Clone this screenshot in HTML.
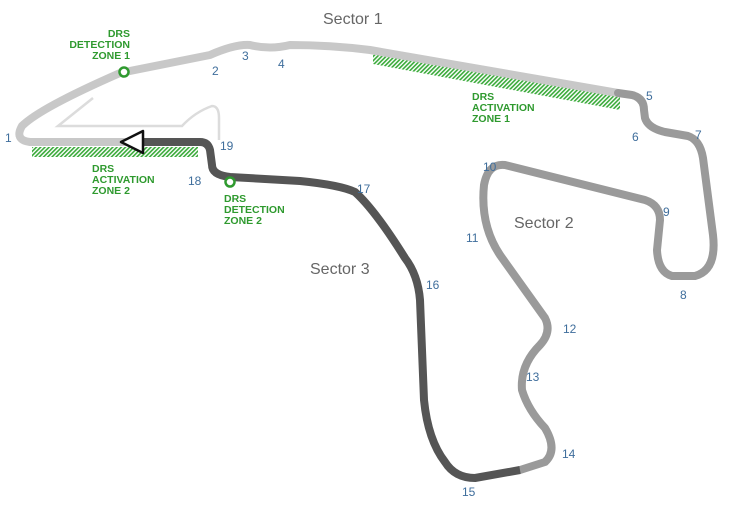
<!DOCTYPE html>
<html><head><meta charset="utf-8"><style>
body{margin:0;background:#fff}
svg{display:block}
.n{font:12px "Liberation Sans",sans-serif;fill:#3f6e9c}
.d{font:bold 10.5px "Liberation Sans",sans-serif;fill:#2f9a2f}
.s{font:16px "Liberation Sans",sans-serif;fill:#666}
</style></head><body>
<svg width="730" height="507" viewBox="0 0 730 507" xmlns="http://www.w3.org/2000/svg">
<defs><pattern id="h" width="3" height="3" patternUnits="userSpaceOnUse" patternTransform="rotate(45)"><rect width="1.6" height="3" fill="#3aaa3a"/></pattern></defs>
<rect width="730" height="507" fill="#fff"/>
<path d="M93,98 L58,126 L182,126 Q195,112 212,106 Q219,106 219,118 L219,140" fill="none" stroke="#dcdcdc" stroke-width="2.5"/>
<rect x="32" y="147" width="166" height="10" fill="url(#h)"/>
<polygon points="373,52 620,92 620,110 373,64" fill="url(#h)"/>
<path d="M145,142 L30,142 Q14,140 22,126 Q40,108 120,73 L210,55 Q235,44 250,45 Q270,50 290,45 Q330,45 370,50 L618,93" fill="none" stroke="#c8c8c8" stroke-width="8" stroke-linejoin="round"/>
<path d="M618,93 L632,95 Q644,98 644,110 L645,118 Q648,128 665,132 L688,136 Q700,140 703,158 L713,235 Q717,270 695,276 L672,276 Q658,272 657,250 L660,220 Q660,205 645,200 L505,165 Q488,163 484,185 Q480,225 500,255 L545,318 Q552,332 540,345 Q520,365 522,390 Q528,410 545,428 Q558,450 545,462 L520,470" fill="none" stroke="#9a9a9a" stroke-width="8" stroke-linejoin="round" stroke-linecap="round"/>
<path d="M520,470 L475,478 Q455,478 445,462 Q428,440 424,400 Q422,350 420,300 Q418,275 405,258 Q375,210 355,192 Q340,185 300,181 L230,177 Q212,175 212,165 L210,150 Q208,142 200,142 L138,142" fill="none" stroke="#555" stroke-width="8" stroke-linejoin="round"/>
<polygon points="121,142 143,131 143,153" fill="#fff" stroke="#111" stroke-width="2.5" stroke-linejoin="round"/>
<circle cx="124" cy="72" r="4.5" fill="#fff" stroke="#2f9a2f" stroke-width="2.5"/>
<circle cx="230" cy="182" r="4.5" fill="#fff" stroke="#2f9a2f" stroke-width="2.5"/>
<text class="s" x="323" y="24">Sector 1</text>
<text class="s" x="514" y="228">Sector 2</text>
<text class="s" x="310" y="274">Sector 3</text>
<g class="d" text-anchor="end"><text x="130" y="37">DRS</text><text x="130" y="48">DETECTION</text><text x="130" y="59">ZONE 1</text></g>
<g class="d"><text x="92" y="172">DRS</text><text x="92" y="183">ACTIVATION</text><text x="92" y="194">ZONE 2</text>
<text x="224" y="202">DRS</text><text x="224" y="213">DETECTION</text><text x="224" y="224">ZONE 2</text>
<text x="472" y="100">DRS</text><text x="472" y="111">ACTIVATION</text><text x="472" y="122">ZONE 1</text></g>
<g class="n"><text x="5" y="142">1</text><text x="212" y="75">2</text><text x="242" y="60">3</text><text x="278" y="68">4</text><text x="646" y="100">5</text><text x="632" y="141">6</text><text x="695" y="139">7</text><text x="680" y="299">8</text><text x="663" y="216">9</text><text x="483" y="171">10</text><text x="466" y="242">11</text><text x="563" y="333">12</text><text x="526" y="381">13</text><text x="562" y="458">14</text><text x="462" y="496">15</text><text x="426" y="289">16</text><text x="357" y="193">17</text><text x="188" y="185">18</text><text x="220" y="150">19</text></g>
</svg>
</body></html>
